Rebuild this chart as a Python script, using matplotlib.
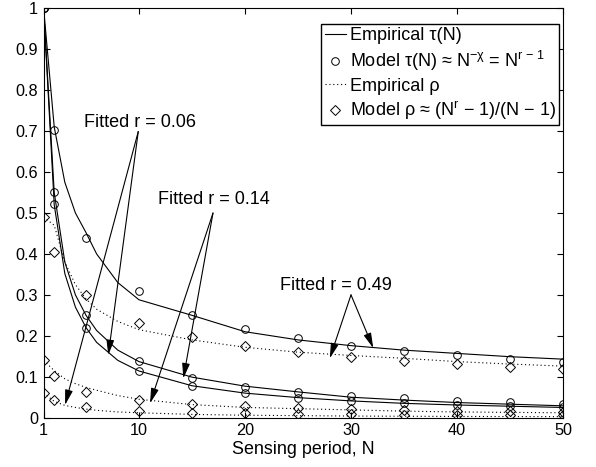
import numpy as np
import matplotlib.pyplot as plt

plt.rcParams['font.family'] = ['Liberation Sans', 'DejaVu Sans']
plt.rcParams['mathtext.fontset'] = 'custom'
plt.rcParams['mathtext.rm'] = 'Liberation Sans'
plt.rcParams['mathtext.it'] = 'Liberation Sans'
plt.rcParams['mathtext.sf'] = 'Liberation Sans'
plt.rcParams['font.size'] = 13

# empirical curves
N_emp = [1, 2, 3, 4, 5, 6, 8, 10, 15, 20, 25, 30, 35, 40, 45, 50]
tau_emp_049 = [1.0, 0.71, 0.575, 0.50, 0.452, 0.40, 0.33, 0.288, 0.25, 0.21, 0.19, 0.176, 0.165, 0.157, 0.149, 0.143]
tau_emp_014 = [1.0, 0.55, 0.38, 0.30, 0.25, 0.213, 0.165, 0.137, 0.099, 0.077, 0.063, 0.050, 0.043, 0.037, 0.033, 0.029]
tau_emp_006 = [1.0, 0.52, 0.352, 0.27, 0.22, 0.184, 0.14, 0.114, 0.078, 0.060, 0.049, 0.041, 0.035, 0.031, 0.028, 0.025]
rho_emp_049 = [0.49, 0.47, 0.38, 0.325, 0.29, 0.265, 0.235, 0.215, 0.19, 0.172, 0.16, 0.152, 0.145, 0.137, 0.131, 0.126]
rho_emp_014 = [0.14, 0.115, 0.095, 0.083, 0.074, 0.067, 0.054, 0.045, 0.032, 0.025, 0.022, 0.019, 0.016, 0.014, 0.013, 0.012]
rho_emp_006 = [0.06, 0.04, 0.03, 0.025, 0.021, 0.018, 0.014, 0.012, 0.008, 0.006, 0.005, 0.004, 0.0035, 0.003, 0.0028, 0.0025]

# model points
N_mod = [1, 2, 5, 10, 15, 20, 25, 30, 35, 40, 45, 50]
tau_mod_049 = [1.0, 0.702, 0.440, 0.309, 0.251, 0.217, 0.194, 0.176, 0.163, 0.152, 0.1435, 0.136]
tau_mod_014 = [1.0, 0.551, 0.251, 0.138, 0.0974, 0.0761, 0.0628, 0.0537, 0.047, 0.0419, 0.0379, 0.0346]
tau_mod_006 = [1.0, 0.521, 0.220, 0.115, 0.0784, 0.060, 0.0485, 0.0409, 0.0354, 0.0312, 0.0279, 0.0253]
rho_mod_049 = [0.49, 0.404, 0.300, 0.232, 0.198, 0.176, 0.160, 0.148, 0.1385, 0.1306, 0.124, 0.118]
rho_mod_014 = [0.14, 0.102, 0.063, 0.0422, 0.0329, 0.0274, 0.0237, 0.021, 0.019, 0.0173, 0.016, 0.0149]
rho_mod_006 = [0.06, 0.0425, 0.0253, 0.0164, 0.0126, 0.0104, 0.0089, 0.0078, 0.0070, 0.0064, 0.0058, 0.0054]

fig = plt.figure(figsize=(5.96, 4.67), dpi=100)
ax = fig.add_axes([0.0732, 0.1056, 0.8714, 0.8766])

dot = (0, (1, 2.5))
lw = 0.8
for te, tm, re, rm in [(tau_emp_049, tau_mod_049, rho_emp_049, rho_mod_049),
                       (tau_emp_014, tau_mod_014, rho_emp_014, rho_mod_014),
                       (tau_emp_006, tau_mod_006, rho_emp_006, rho_mod_006)]:
    l1, = ax.plot(N_emp, te, '-', color='k', lw=lw)
    l2, = ax.plot(N_mod, tm, 'o', color='k', mfc='none', ms=5.5, mew=0.7)
    l3, = ax.plot(N_emp, re, linestyle=dot, color='k', lw=lw)
    l4, = ax.plot(N_mod, rm, 'D', color='k', mfc='none', ms=5, mew=0.7)

ax.legend([l1, l2, l3, l4],
          ['Empirical τ(N)',
           r'Model τ(N) ≈ N$^{-\chi}$ = N$^{\mathrm{r}\,-\,1}$',
           'Empirical ρ',
           r'Model ρ ≈ (N$^{\mathrm{r}}$ − 1)/(N − 1)'],
          loc='upper right', bbox_to_anchor=(0.993, 0.962), borderaxespad=0,
          fancybox=False, edgecolor='k', framealpha=1,
          handlelength=1.2, labelspacing=0.25, borderpad=0.2,
          handletextpad=0.2, fontsize=13)

arrow = dict(arrowstyle='-|>,head_length=0.7,head_width=0.18', color='k', lw=0.8,
             shrinkA=0, shrinkB=0)
# r = 0.06
ax.text(10.05, 0.722, 'Fitted r = 0.06', ha='center', va='center')
for tip in [(3.02, 0.031), (7.1, 0.153)]:
    ax.annotate('', xy=tip, xytext=(9.93, 0.699), arrowprops=arrow)
# r = 0.14
ax.text(17.1, 0.532, 'Fitted r = 0.14', ha='center', va='center')
for tip in [(11.04, 0.035), (14.18, 0.096)]:
    ax.annotate('', xy=tip, xytext=(16.98, 0.50), arrowprops=arrow)
# r = 0.49
ax.text(28.6, 0.324, 'Fitted r = 0.49', ha='center', va='center')
for tip in [(28.0, 0.145), (32.1, 0.17)]:
    ax.annotate('', xy=tip, xytext=(30.0, 0.30), arrowprops=arrow)

ax.set_xlim(1, 50)
ax.set_ylim(0, 1)
ax.set_xticks([1, 10, 20, 30, 40, 50])
ax.set_yticks(np.arange(0, 1.01, 0.1))
ax.set_yticklabels(['0', '0.1', '0.2', '0.3', '0.4', '0.5', '0.6', '0.7', '0.8', '0.9', '1'])
ax.tick_params(direction='in', top=True, right=True, length=4, width=0.8,
               pad=4, labelsize=11.7)
for s in ax.spines.values():
    s.set_linewidth(0.8)
ax.set_xlabel('Sensing period, N', fontsize=12.9, labelpad=2)

plt.savefig('out.png', dpi=100)
